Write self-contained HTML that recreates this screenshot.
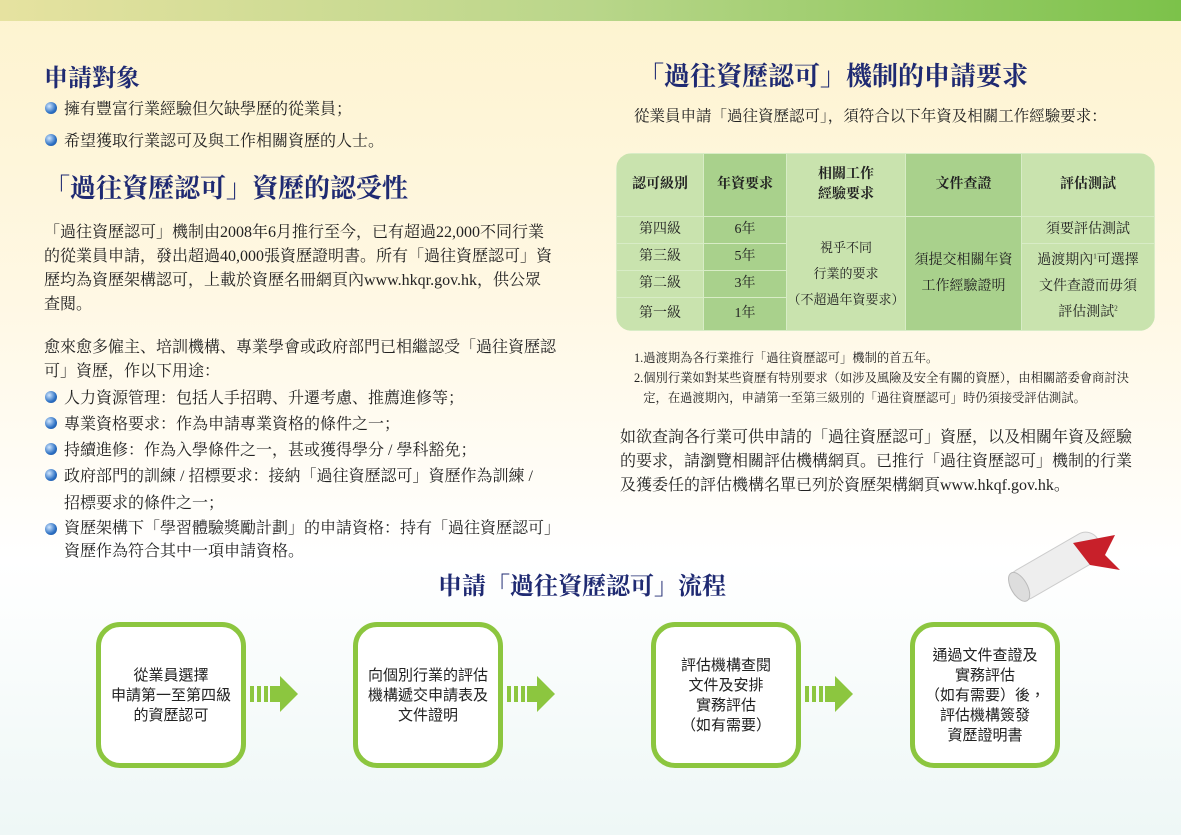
<!DOCTYPE html>
<html><head><meta charset="utf-8"><style>
body{margin:0;width:1181px;height:835px;overflow:hidden;position:relative;font-family:"Liberation Serif","Noto Serif CJK SC","Noto Sans CJK TC",serif;color:#222;background:linear-gradient(#fdf3cf 0px,#fff8e4 300px,#ffffff 560px,#eef7f6 835px);}
.a{position:absolute;white-space:nowrap}
.h{color:#1f2a72;font-weight:bold;font-family:"Noto Serif CJK SC",serif}
.t{font-size:16px}
.b{position:absolute;width:12px;height:12px;border-radius:50%;background:radial-gradient(circle at 35% 35%,#cfe6ff,#2b6fc2 60%,#1a4d99)}
table{border-collapse:collapse;table-layout:fixed;position:absolute;left:616px;top:153px;width:539px;height:175px;border-radius:16px;overflow:hidden;font-size:14px;text-align:center}
td{border:1px solid #d8ecc6;padding:0;line-height:26px;white-space:nowrap}
.d{background:#a9d18c}.l{background:#c9e3ae}
th{font-weight:bold;font-size:14px;border:1px solid #d8ecc6;line-height:20px}
.box{position:absolute;top:622px;width:140px;height:136px;border:5px solid #8cc63f;border-radius:24px;background:#fff;display:flex;align-items:center;justify-content:center;text-align:center;font-size:15px;line-height:20px;font-family:"Noto Sans CJK TC",sans-serif}
.ar{position:absolute;top:676px}
</style></head><body>
<div class="a" style="left:0;top:0;width:1181px;height:21px;background:linear-gradient(90deg,#e6e2a0,#b9d68a 50%,#7cc24a)"></div>
<div class="a" style="left:0;top:600px;width:1181px;height:235px;opacity:.5;background:radial-gradient(ellipse 500px 300px at 590px 835px,#f9d9a8,transparent 70%),radial-gradient(ellipse 400px 250px at 150px 620px,#cfe8e6,transparent 70%),radial-gradient(ellipse 400px 250px at 1050px 620px,#cfe8e6,transparent 70%)"></div>

<div class="a h" style="left:44px;top:58px;font-size:24px">申請對象</div>
<div class="b" style="left:45px;top:102px"></div><div class="a t" style="left:64px;top:96px">擁有豐富行業經驗但欠缺學歷的從業員；</div>
<div class="b" style="left:45px;top:134px"></div><div class="a t" style="left:64px;top:128px">希望獲取行業認可及與工作相關資歷的人士。</div>
<div class="a h" style="left:44px;top:168px;font-size:26px">「過往資歷認可」資歷的認受性</div>
<div class="a t" style="left:44px;top:221px;line-height:24px">「過往資歷認可」機制由2008年6月推行至今，已有超過22,000不同行業<br>的從業員申請，發出超過40,000張資歷證明書。所有「過往資歷認可」資<br>歷均為資歷架構認可，上載於資歷名冊網頁內www.hkqr.gov.hk，供公眾<br>查閱。</div>
<div class="a t" style="left:44px;top:336px;line-height:24px">愈來愈多僱主、培訓機構、專業學會或政府部門已相繼認受「過往資歷認<br>可」資歷，作以下用途：</div>
<div class="b" style="left:45px;top:391px"></div><div class="a t" style="left:64px;top:385px">人力資源管理：包括人手招聘、升遷考慮、推薦進修等；</div>
<div class="b" style="left:45px;top:417px"></div><div class="a t" style="left:64px;top:411px">專業資格要求：作為申請專業資格的條件之一；</div>
<div class="b" style="left:45px;top:443px"></div><div class="a t" style="left:64px;top:437px">持續進修：作為入學條件之一，甚或獲得學分 / 學科豁免；</div>
<div class="b" style="left:45px;top:469px"></div><div class="a t" style="left:64px;top:463px;line-height:27px">政府部門的訓練 / 招標要求：接納「過往資歷認可」資歷作為訓練 /<br>招標要求的條件之一；</div>
<div class="b" style="left:45px;top:523px"></div><div class="a t" style="left:64px;top:517px;line-height:23px">資歷架構下「學習體驗獎勵計劃」的申請資格：持有「過往資歷認可」<br>資歷作為符合其中一項申請資格。</div>

<div class="a h" style="left:638px;top:56px;font-size:26px">「過往資歷認可」機制的申請要求</div>
<div class="a" style="left:634px;top:104px;font-size:15.5px">從業員申請「過往資歷認可」，須符合以下年資及相關工作經驗要求：</div>
<table>
<colgroup><col style="width:87px"><col style="width:83px"><col style="width:119px"><col style="width:116px"><col></colgroup>
<tr style="height:63px"><th class="l">認可級別</th><th class="d">年資要求</th><th class="l">相關工作<br>經驗要求</th><th class="d">文件查證</th><th class="l">評估測試</th></tr>
<tr style="height:27px"><td class="l">第四級</td><td class="d">6年</td><td class="l" rowspan="4" style="font-size:13px">視乎不同<br>行業的要求<br>（不超過年資要求）</td><td class="d" rowspan="4">須提交相關年資<br>工作經驗證明</td><td class="l">須要評估測試</td></tr>
<tr style="height:26px"><td class="l">第三級</td><td class="d">5年</td><td class="l" rowspan="3" style="line-height:26px">過渡期內<sup style="font-size:7px;line-height:0">1</sup>可選擇<br>文件查證而毋須<br>評估測試<sup style="font-size:7px;line-height:0">2</sup></td></tr>
<tr style="height:26px"><td class="l">第二級</td><td class="d">3年</td></tr>
<tr style="height:33px"><td class="l">第一級</td><td class="d">1年</td></tr>
</table>
<div class="a" style="left:634px;top:348px;font-size:12.3px;line-height:20px">1.過渡期為各行業推行「過往資歷認可」機制的首五年。<br>2.個別行業如對某些資歷有特別要求（如涉及風險及安全有關的資歷），由相關諮委會商討決<br>&nbsp;&nbsp;&nbsp;定，在過渡期內，申請第一至第三級別的「過往資歷認可」時仍須接受評估測試。</div>
<div class="a t" style="left:620px;top:426px;line-height:24px">如欲查詢各行業可供申請的「過往資歷認可」資歷，以及相關年資及經驗<br>的要求，請瀏覽相關評估機構網頁。已推行「過往資歷認可」機制的行業<br>及獲委任的評估機構名單已列於資歷架構網頁www.hkqf.gov.hk。</div>

<svg class="a" style="left:995px;top:515px" width="130" height="90"><g transform="rotate(-30 60 50)"><rect x="10" y="35" width="100" height="32" rx="14" fill="#eee" stroke="#ccc"/><ellipse cx="18" cy="51" rx="8" ry="16" fill="#ddd" stroke="#bbb"/></g><path d="M78 28 L120 20 L110 40 L125 55 L95 50Z" fill="#c8202a"/></svg>

<div class="a h" style="left:438px;top:566px;font-size:24px">申請「過往資歷認可」流程</div>
<div class="box" style="left:96px">從業員選擇<br>申請第一至第四級<br>的資歷認可</div>
<div class="box" style="left:353px">向個別行業的評估<br>機構遞交申請表及<br>文件證明</div>
<div class="box" style="left:651px">評估機構查閱<br>文件及安排<br>實務評估<br>（如有需要）</div>
<div class="box" style="left:910px">通過文件查證及<br>實務評估<br>（如有需要）後，<br>評估機構簽發<br>資歷證明書</div>
<svg class="ar" style="left:250px" width="50" height="36"><g fill="#8cc63f"><rect x="0" y="10" width="4" height="16"/><rect x="7" y="10" width="4" height="16"/><rect x="14" y="10" width="4" height="16"/><path d="M20 10H30V0L48 18 30 36V26H20Z"/></g></svg>
<svg class="ar" style="left:507px" width="50" height="36"><g fill="#8cc63f"><rect x="0" y="10" width="4" height="16"/><rect x="7" y="10" width="4" height="16"/><rect x="14" y="10" width="4" height="16"/><path d="M20 10H30V0L48 18 30 36V26H20Z"/></g></svg>
<svg class="ar" style="left:805px" width="50" height="36"><g fill="#8cc63f"><rect x="0" y="10" width="4" height="16"/><rect x="7" y="10" width="4" height="16"/><rect x="14" y="10" width="4" height="16"/><path d="M20 10H30V0L48 18 30 36V26H20Z"/></g></svg>
</body></html>
